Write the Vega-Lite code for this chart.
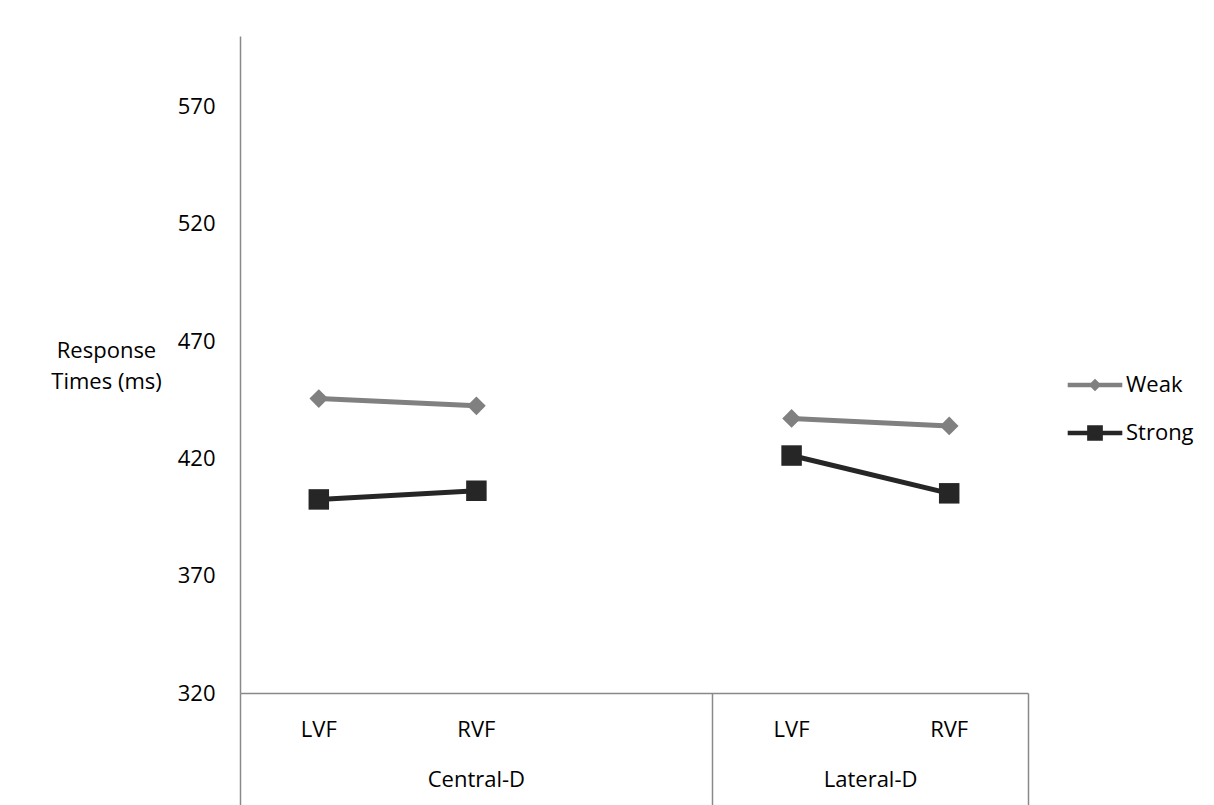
{
  "$schema": "https://vega.github.io/schema/vega-lite/v6.json",
  "width": 788,
  "height": 657,
  "autosize": {"type": "none"},
  "padding": {"left": 240, "top": 36, "right": 186, "bottom": 112},
  "background": "white",
  "config": {
    "font": "Open Sans",
    "view": {"stroke": null},
    "axis": {
      "labelFont": "Open Sans",
      "labelFontSize": 22,
      "labelColor": "#000000",
      "grid": false,
      "domainColor": "#898989",
      "domainWidth": 1.5,
      "tickColor": "#898989",
      "tickWidth": 1.5,
      "titleFont": "Open Sans",
      "titleFontSize": 22,
      "titleFontWeight": "normal",
      "titleColor": "#000000"
    },
    "legend": {"symbolStrokeWidth": 4.5, "symbolSize": 196, "symbolOpacity": 1, "labelFontSize": 22, "labelFont": "Open Sans", "labelColor": "#000000"}
  },
  "data": {
    "values": [
      {"series": "Weak", "group": "Central-D", "cond": "Central-D LVF", "rt": 445.5},
      {"series": "Weak", "group": "Central-D", "cond": "Central-D RVF", "rt": 442.4},
      {"series": "Weak", "group": "Lateral-D", "cond": "Lateral-D LVF", "rt": 437.0},
      {"series": "Weak", "group": "Lateral-D", "cond": "Lateral-D RVF", "rt": 433.8},
      {"series": "Strong", "group": "Central-D", "cond": "Central-D LVF", "rt": 402.5},
      {"series": "Strong", "group": "Central-D", "cond": "Central-D RVF", "rt": 406.2},
      {"series": "Strong", "group": "Lateral-D", "cond": "Lateral-D LVF", "rt": 421.2},
      {"series": "Strong", "group": "Lateral-D", "cond": "Lateral-D RVF", "rt": 405.1}
    ]
  },
  "layer": [
    {
      "transform": [{"filter": "datum.series == 'Weak'"}],
      "mark": {"type": "line", "strokeWidth": 5, "color": "#808080"},
      "encoding": {
        "x": {
          "field": "cond", "type": "nominal",
          "scale": {"type": "band", "domain": ["Central-D LVF", "Central-D RVF", "gap", "Lateral-D LVF", "Lateral-D RVF"], "paddingInner": 0, "paddingOuter": 0},
          "axis": {"orient": "bottom", "values": ["Central-D LVF", "Central-D RVF", "Lateral-D LVF", "Lateral-D RVF"], "labelExpr": "split(datum.value, ' ')[1]", "ticks": false, "tickSize": 0, "labelPadding": 26, "labelAngle": 0, "title": null}
        },
        "y": {
          "field": "rt", "type": "quantitative",
          "scale": {"domain": [320, 600], "nice": false, "zero": false},
          "axis": {"orient": "left", "values": [320, 370, 420, 470, 520, 570], "ticks": false, "tickSize": 0, "labelPadding": 25, "title": ["Response", "Times (ms)"], "titleAngle": 0, "titleAlign": "center", "titleBaseline": "alphabetic", "titleX": -134, "titleY": 321, "titleLineHeight": 31}
        },
        "detail": {"field": "group"}
      }
    },
    {
      "transform": [{"filter": "datum.series == 'Strong'"}],
      "mark": {"type": "line", "strokeWidth": 5, "color": "#262626"},
      "encoding": {
        "x": {
          "field": "cond", "type": "nominal",
          "scale": {"type": "band", "domain": ["Central-D LVF", "Central-D RVF", "gap", "Lateral-D LVF", "Lateral-D RVF"], "paddingInner": 0, "paddingOuter": 0},
          "axis": null
        },
        "y": {"field": "rt", "type": "quantitative", "scale": {"domain": [320, 600], "nice": false, "zero": false}, "axis": null},
        "detail": {"field": "group"}
      }
    },
    {
      "transform": [{"filter": "datum.series == 'Weak'"}],
      "mark": {"type": "point", "shape": "diamond", "filled": true, "size": 350, "opacity": 1, "color": "#808080"},
      "encoding": {
        "x": {
          "field": "cond", "type": "nominal",
          "scale": {"type": "band", "domain": ["Central-D LVF", "Central-D RVF", "gap", "Lateral-D LVF", "Lateral-D RVF"], "paddingInner": 0, "paddingOuter": 0},
          "axis": {"orient": "bottom", "values": ["Central-D RVF"], "labelExpr": "'Central-D'", "ticks": false, "tickSize": 0, "domain": false, "labelPadding": 76, "labelAngle": 0, "title": null}
        },
        "y": {"field": "rt", "type": "quantitative", "scale": {"domain": [320, 600], "nice": false, "zero": false}, "axis": null}
      }
    },
    {
      "transform": [{"filter": "datum.series == 'Strong'"}],
      "mark": {"type": "point", "shape": "square", "filled": true, "size": 420, "opacity": 1, "color": "#262626"},
      "encoding": {
        "x": {
          "field": "cond", "type": "nominal",
          "scale": {"type": "band", "domain": ["Central-D LVF", "Central-D RVF", "gap", "Lateral-D LVF", "Lateral-D RVF"], "paddingInner": 0, "paddingOuter": 0},
          "axis": {"orient": "bottom", "values": ["Lateral-D LVF", "Lateral-D RVF"], "bandPosition": 1, "labelExpr": "datum.value == 'Lateral-D LVF' ? 'Lateral-D' : ''", "labelOffset": 79, "ticks": true, "tickSize": 115, "tickOpacity": {"condition": {"test": "datum.value == 'Lateral-D RVF'", "value": 1}, "value": 0}, "domain": false, "labelPadding": -39, "labelAngle": 0, "title": null}
        },
        "y": {"field": "rt", "type": "quantitative", "scale": {"domain": [320, 600], "nice": false, "zero": false}, "axis": null}
      }
    },
    {
      "transform": [{"filter": "false"}],
      "mark": {"type": "point", "filled": true, "opacity": 1, "strokeWidth": 4.5},
      "encoding": {
        "x": {
          "field": "cond", "type": "nominal",
          "scale": {"type": "band", "domain": ["Central-D LVF", "Central-D RVF", "gap", "Lateral-D LVF", "Lateral-D RVF"], "paddingInner": 0, "paddingOuter": 0},
          "axis": {"orient": "bottom", "values": ["Central-D LVF", "Lateral-D LVF"], "bandPosition": 0, "ticks": true, "tickSize": 115, "labels": false, "domain": false, "title": null}
        },
        "y": {"field": "rt", "type": "quantitative", "scale": {"domain": [320, 600], "nice": false, "zero": false}, "axis": null},
        "color": {"field": "series", "type": "nominal", "scale": {"domain": ["Weak", "Strong"], "range": ["#808080", "#262626"]},
          "legend": {"title": null, "orient": "none", "legendX": 844, "legendY": 338, "labelOffset": 20, "rowPadding": 20}},
        "stroke": {"field": "series", "type": "nominal", "scale": {"domain": ["Weak", "Strong"], "range": ["#808080", "#262626"]},
          "legend": {"title": null, "orient": "none", "legendX": 844, "legendY": 338, "labelOffset": 20, "rowPadding": 20}},
        "shape": {"field": "series", "type": "nominal", "scale": {"domain": ["Weak", "Strong"], "range": ["M-3.9,0H3.9M0,-0.45L0.45,0L0,0.45L-0.45,0Z", "M-3.9,0H3.9M-0.8,-0.8H0.8V0.8H-0.8Z"]},
          "legend": {"title": null, "orient": "none", "legendX": 844, "legendY": 338, "labelOffset": 20, "rowPadding": 20}}
      }
    }
  ],
  "resolve": {"axis": {"x": "independent", "y": "independent"}}
}
